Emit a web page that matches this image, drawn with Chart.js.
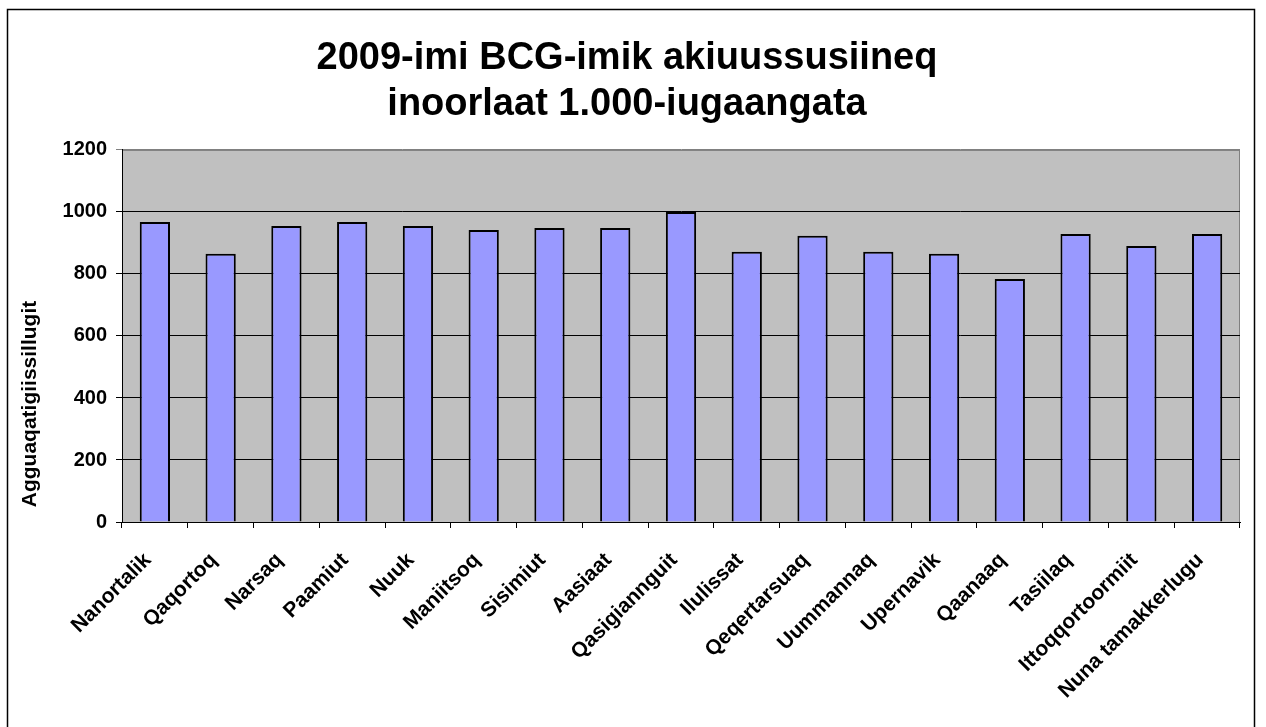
<!DOCTYPE html>
<html>
<head>
<meta charset="utf-8">
<script src="https://cdn.jsdelivr.net/npm/chart.js@4.4.1/dist/chart.umd.min.js"></script>
<style>
  html, body { margin: 0; padding: 0; background: #fff; }
  #wrap { width: 1266px; height: 727px; }
</style>
</head>
<body>
<div id="wrap"><canvas id="graphCanvas" width="1266" height="727"></canvas></div>
<script>
// data
const places = ['Nanortalik', 'Qaqortoq', 'Narsaq', 'Paamiut', 'Nuuk', 'Maniitsoq', 'Sisimiut',
  'Aasiaat', 'Qasigiannguit', 'Ilulissat', 'Qeqertarsuaq', 'Uummannaq', 'Upernavik',
  'Qaanaaq', 'Tasiilaq', 'Ittoqqortoormiit', 'Nuna tamakkerlugu'];
const bcgValues = [968, 865, 955, 968, 955, 942, 948, 948, 1000, 872, 923, 872, 865, 784, 929, 890, 929];
const chartTitle = ['2009-imi BCG-imik akiuussusiineq', 'inoorlaat 1.000-iugaangata'];
const yTitle = 'Agguaqatigiissillugit';

const FONT = "'Liberation Sans', Arial, sans-serif";

// grey plot area, outer frame, and the y axis title (sits low, like the original)
const framePlugin = {
  id: 'frame',
  beforeDraw(chart) {
    const c = chart.ctx, a = chart.chartArea;
    c.save();
    c.fillStyle = '#fff';
    c.fillRect(0, 0, chart.width, chart.height);
    c.strokeStyle = '#000';
    c.lineWidth = 1.5;
    c.strokeRect(7.5, 9.5, 1247, 730);
    c.fillStyle = '#c0c0c0';
    c.fillRect(a.left, a.top, a.right - a.left, a.bottom - a.top);
    c.strokeStyle = '#808080';
    c.lineWidth = 1;
    c.strokeRect(a.left + 0.5, a.top + 0.5, a.right - a.left - 1, a.bottom - a.top);
    c.restore();
  },
  afterDraw(chart) {
    const c = chart.ctx;
    c.save();
    c.translate(30, 404);
    c.rotate(-Math.PI / 2);
    c.fillStyle = '#000';
    c.font = 'bold 21px ' + FONT;
    c.textAlign = 'center';
    c.textBaseline = 'middle';
    c.fillText(yTitle, 0, 0);
    c.restore();
  }
};

const ctx = document.getElementById('graphCanvas');
new Chart(ctx, {
  type: 'bar',
  data: {
    labels: places,
    datasets: [{
      data: bcgValues,
      backgroundColor: '#9999ff',
      borderColor: '#000',
      borderWidth: 2,
      barPercentage: 0.46,
      categoryPercentage: 1.0
    }]
  },
  plugins: [framePlugin],
  options: {
    responsive: false,
    animation: false,
    devicePixelRatio: 1,
    layout: { padding: { left: 14, right: 26, top: 0, bottom: 5 } },
    plugins: {
      legend: { display: false },
      tooltip: { enabled: false },
      title: {
        display: true,
        text: chartTitle,
        color: '#000',
        font: { family: FONT, size: 38, weight: 'bold', lineHeight: 1.21 },
        padding: { top: 36, bottom: 22 }
      }
    },
    scales: {
      y: {
        min: 0,
        max: 1200,
        ticks: {
          stepSize: 200,
          color: '#000',
          padding: 9,
          font: { family: FONT, size: 20, weight: 'bold' },
          callback: (v) => String(v)
        },
        grid: {
          color: (g) => (g.tick && g.tick.value === 1200 ? '#808080' : '#000'),
          lineWidth: 1,
          tickLength: 6,
          drawTicks: true
        },
        border: { color: '#000', width: 1 },
        afterFit(scale) { scale.width = 108; }
      },
      x: {
        ticks: {
          color: '#000',
          minRotation: 45,
          maxRotation: 45,
          autoSkip: false,
          padding: 20,
          labelOffset: -7,
          font: { family: FONT, size: 21, weight: 'bold' }
        },
        grid: { drawOnChartArea: false, drawTicks: true, tickLength: 6, color: '#000' },
        border: { color: '#000', width: 1 },
        afterFit(scale) { scale.height = 200; }
      }
    }
  }
});
</script>
</body>
</html>
